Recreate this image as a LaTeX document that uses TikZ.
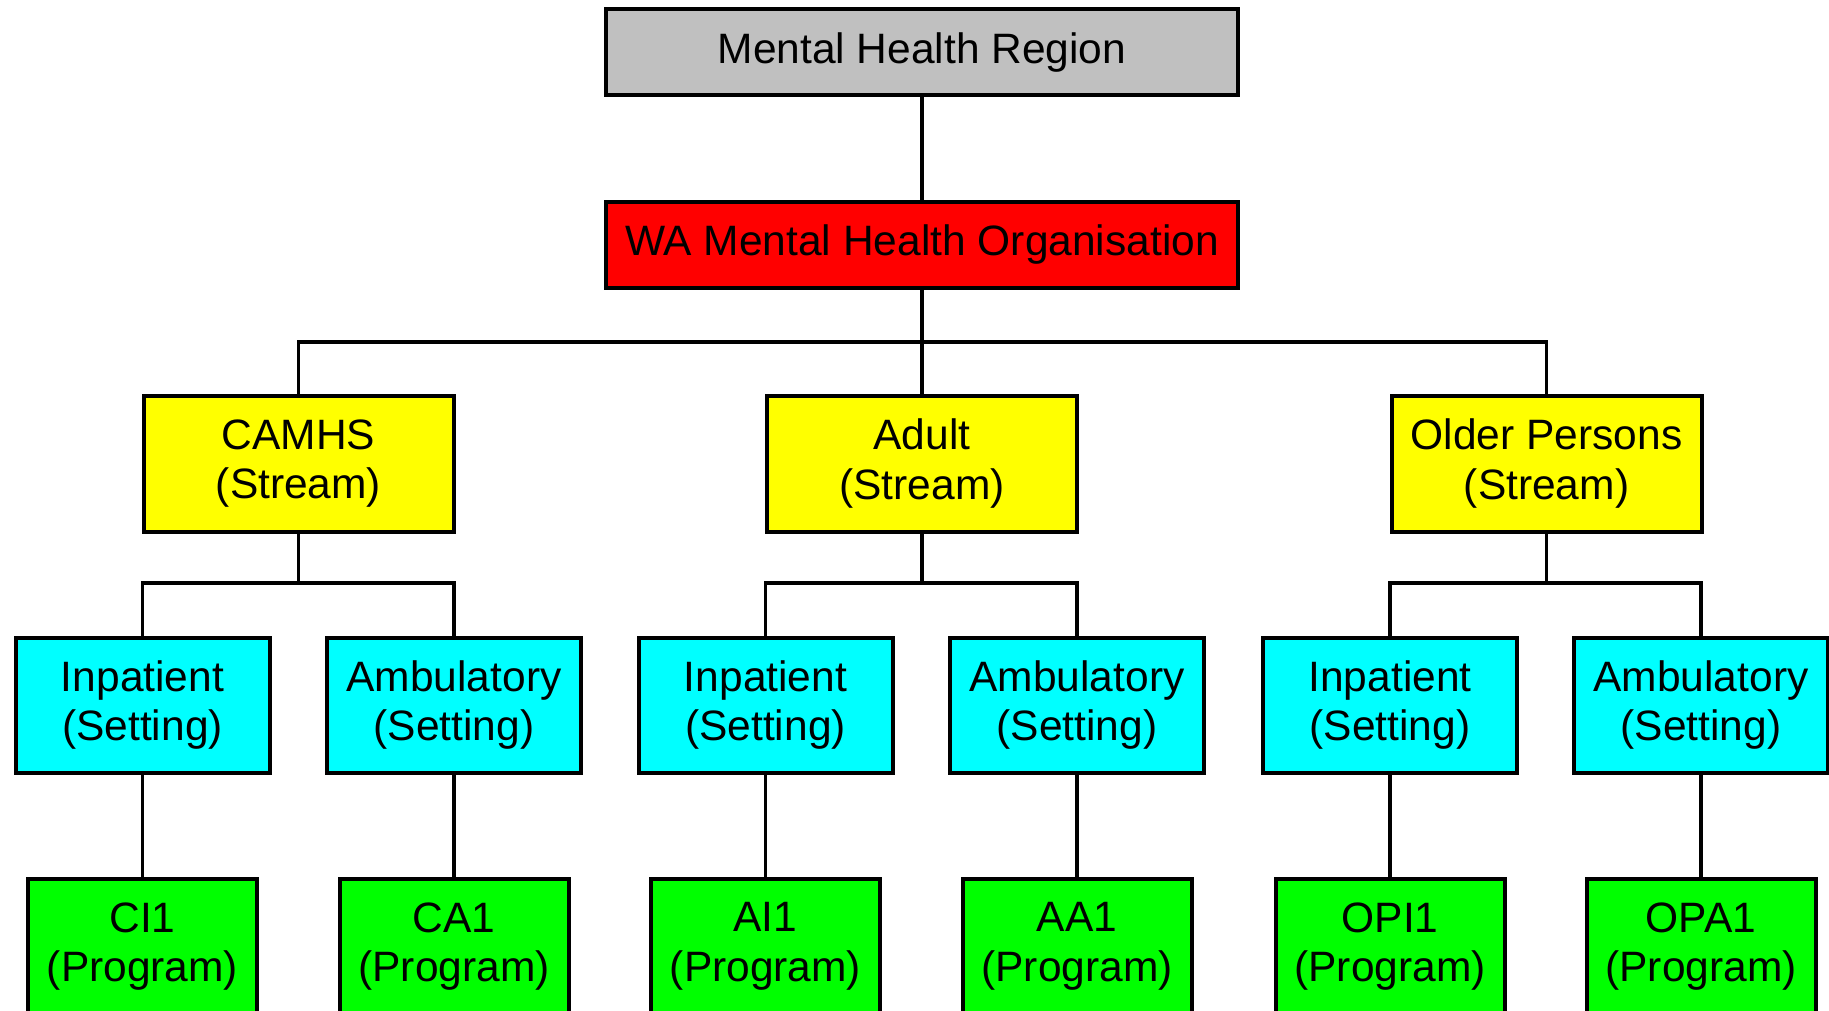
\documentclass[tikz,border=0pt]{standalone}
\usepackage{fontspec}
\setmainfont{Liberation Sans}
\definecolor{boxgray}{HTML}{C0C0C0}
\definecolor{boxred}{HTML}{FF0000}
\definecolor{boxyellow}{HTML}{FFFF00}
\definecolor{boxcyan}{HTML}{00FFFF}
\definecolor{boxgreen}{HTML}{00FF00}
\tikzset{
  orgbox/.style={draw=black, line width=4pt, rectangle, inner sep=0pt, align=center,
    font=\fontsize{42.5}{49.5}\selectfont, text=black},
  topbox/.style={orgbox, minimum width=632pt, minimum height=86pt},
  streambox/.style={orgbox, fill=boxyellow, minimum width=310pt, minimum height=136pt},
  settingbox/.style={orgbox, fill=boxcyan, minimum width=254pt, minimum height=135pt},
  programbox/.style={orgbox, fill=boxgreen, minimum width=229pt, minimum height=136pt},
  link/.style={draw=black, line width=3.6pt}
}
\begin{document}
\begin{tikzpicture}[x=1pt,y=-1pt]
\useasboundingbox[fill=white] (0,0) rectangle (1829,1011);
\coordinate (busA) at (0,342);
\coordinate (busB) at (0,583);
\node[topbox, fill=boxgray] (mhr) at (922,52.5) {Mental Health Region};
\node[topbox, fill=boxred] (wa) at (922,245) {WA Mental Health Organisation};
\node[streambox] (cam) at (298.5,463.5) {CAMHS\\(Stream)};
\node[streambox] (adu) at (922,463.5) {Adult\\(Stream)};
\node[streambox] (old) at (1546.5,463.5) {Older Persons\\(Stream)};
\node[settingbox] (cis) at (142.5,705) {Inpatient\\(Setting)};
\node[settingbox] (cas) at (454,705) {Ambulatory\\(Setting)};
\node[settingbox] (ais) at (765.5,705) {Inpatient\\(Setting)};
\node[settingbox] (aas) at (1077,705) {Ambulatory\\(Setting)};
\node[settingbox] (ois) at (1390,705) {Inpatient\\(Setting)};
\node[settingbox] (oas) at (1701,705) {Ambulatory\\(Setting)};
\node[programbox] (ci1) at (142.5,946.5) {CI1\\(Program)};
\node[programbox] (ca1) at (454,946.5) {CA1\\(Program)};
\node[programbox] (ai1) at (765.5,946.5) {AI1\\(Program)};
\node[programbox] (aa1) at (1077,946.5) {AA1\\(Program)};
\node[programbox] (oi1) at (1390,946.5) {OPI1\\(Program)};
\node[programbox] (oa1) at (1701,946.5) {OPA1\\(Program)};
\draw[link] (mhr.south) -- (wa.north);
\draw[link] (wa.south) -- (adu.north);
\draw[link] (cam.north) |- (wa.south |- busA) -| (old.north);
\draw[link] (cam.south) -- (cam.south |- busB);
\draw[link] (cis.north) |- (cam.south |- busB) -| (cas.north);
\draw[link] (adu.south) -- (adu.south |- busB);
\draw[link] (ais.north) |- (adu.south |- busB) -| (aas.north);
\draw[link] (old.south) -- (old.south |- busB);
\draw[link] (ois.north) |- (old.south |- busB) -| (oas.north);
\draw[link] (cis.south) -- (ci1.north);
\draw[link] (cas.south) -- (ca1.north);
\draw[link] (ais.south) -- (ai1.north);
\draw[link] (aas.south) -- (aa1.north);
\draw[link] (ois.south) -- (oi1.north);
\draw[link] (oas.south) -- (oa1.north);
\end{tikzpicture}
\end{document}
